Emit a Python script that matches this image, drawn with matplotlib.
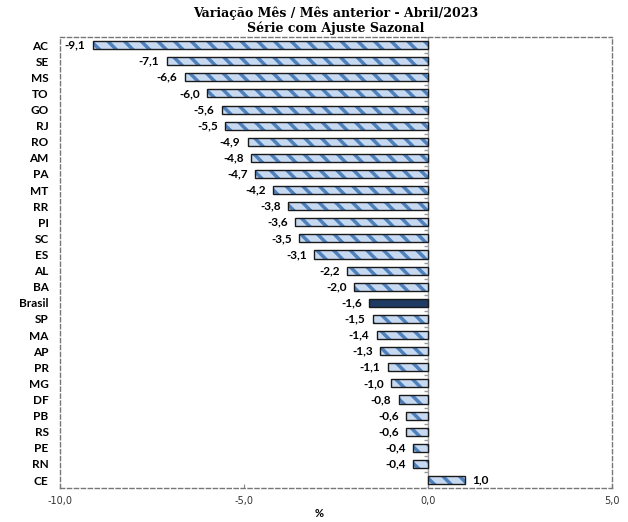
import numpy as np
import matplotlib
matplotlib.use("Agg")
import matplotlib.pyplot as plt

# Dados: variação mês/mês anterior, abril/2023 (%)
estados = ['AC', 'SE', 'MS', 'TO', 'GO', 'RJ', 'RO', 'AM', 'PA', 'MT', 'RR', 'PI',
           'SC', 'ES', 'AL', 'BA', 'Brasil', 'SP', 'MA', 'AP', 'PR', 'MG', 'DF',
           'PB', 'RS', 'PE', 'RN', 'CE']
variacao = [-9.1, -7.1, -6.6, -6.0, -5.6, -5.5, -4.9, -4.8, -4.7, -4.2, -3.8, -3.6,
            -3.5, -3.1, -2.2, -2.0, -1.6, -1.5, -1.4, -1.3, -1.1, -1.0, -0.8,
            -0.6, -0.6, -0.4, -0.4, 1.0]
xticks = [-10, -5, 0, 5]
xtick_labels = ['-10,0', '-5,0', '0,0', '5,0']

plt.rcParams['hatch.linewidth'] = 2.5

fig = plt.figure(figsize=(6.28, 5.22), dpi=100)
ax = fig.add_axes([0.095, 0.065, 0.88, 0.864])

y = np.arange(len(estados))
cores = ['#1f3b63' if e == 'Brasil' else '#c6d9f1' for e in estados]
hatches = ['' if e == 'Brasil' else '\\\\' for e in estados]

for yi, v, c, h in zip(y, variacao, cores, hatches):
    # preenchimento com listras
    ax.barh(yi, v, height=0.5, color=c, hatch=h, edgecolor='#4f81bd', linewidth=0, zorder=2)
    # contorno escuro
    ax.barh(yi, v, height=0.5, fill=False, edgecolor='#1a1a1a', linewidth=1.0, zorder=3)
    txt = f"{v:.1f}".replace('.', ',')
    if v < 0:
        ax.text(v - 0.2, yi, txt, ha='right', va='center', fontsize=8.5,
                fontweight='bold', family='Lato')
    else:
        ax.text(v + 0.2, yi, txt, ha='left', va='center', fontsize=8.5,
                fontweight='bold', family='Lato')

ax.set_xlim(-10, 5)
ax.set_ylim(len(estados) - 0.5, -0.5)
ax.set_yticks(y)
ax.set_yticklabels(estados, fontsize=8.5, fontweight='bold', family='Lato')
ax.tick_params(axis='y', length=0, pad=8)
ax.set_xticks(xticks)
ax.set_xticklabels(xtick_labels, fontsize=7, color='#333333')
ax.tick_params(axis='x', direction='in', length=3, color='#888888', pad=6)

for s in ax.spines.values():
    s.set_linestyle((0, (3, 2)))
    s.set_color('#777777')
    s.set_linewidth(1.0)

# eixo vertical no zero com marcas entre categorias
ax.axvline(0, color='#999999', linewidth=1.0, zorder=1)
limites = np.arange(len(estados) + 1) - 0.5
ax.hlines(limites, -0.12, 0, color='#999999', linewidth=1.0, zorder=1)

ax.set_xlabel('%', fontsize=8, fontweight='bold', family='Lato')
ax.xaxis.set_label_coords(0.47, -0.045)
ax.set_title('Variação Mês / Mês anterior - Abril/2023\nSérie com Ajuste Sazonal',
             fontsize=9, fontweight='bold', family='DejaVu Serif', linespacing=1.05, pad=4)

fig.savefig('out.png', dpi=100)
